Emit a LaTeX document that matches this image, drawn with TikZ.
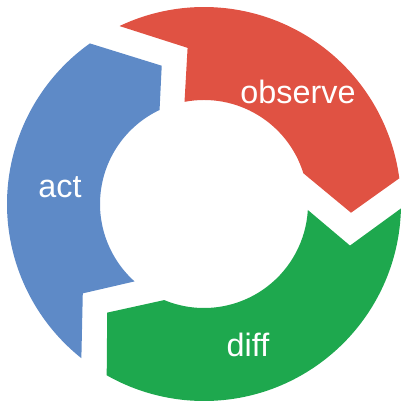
\documentclass[tikz,border=0pt]{standalone}
\usepackage{fontspec}
\setmainfont{Liberation Sans}
\usepackage{tikz}
\definecolor{obsred}{RGB}{224,82,67}
\definecolor{actblue}{RGB}{94,138,199}
\definecolor{diffgreen}{RGB}{30,168,78}

\begin{document}
\begin{tikzpicture}[x=0.025cm,y=0.025cm,
  segment/.style={draw=none},
  label/.style={text=white,inner sep=0pt,font=\fontsize{23}{26}\selectfont}]
\useasboundingbox (-204,-204) rectangle (204,204);
\fill[segment,obsred] (115.4:197) arc[start angle=115.4,end angle=7.5,radius=197]
  -- (-3.4:147.3) -- (17.2:104) arc[start angle=17.2,end angle=100.8,radius=104]
  -- (96:157) -- cycle;
\fill[segment,diffgreen] (358.7:197) arc[start angle=358.7,end angle=240.4,radius=197]
  -- (228.3:145.5) -- (247.5:104) arc[start angle=247.5,end angle=356.7,radius=104]
  -- (344.1:151.8) -- cycle;
\fill[segment,actblue] (231.5:197) arc[start angle=231.5,end angle=125.4,radius=197]
  -- (107:144.6) -- (115.3:104) arc[start angle=115.3,end angle=228.1,radius=104]
  -- (216.4:150.6) -- cycle;
\node[label] (observe) at (94,112) {observe};
\node[label] (act) at (-144,17) {act};
\node[label] (diff) at (44,-141) {diff};
\end{tikzpicture}
\end{document}
